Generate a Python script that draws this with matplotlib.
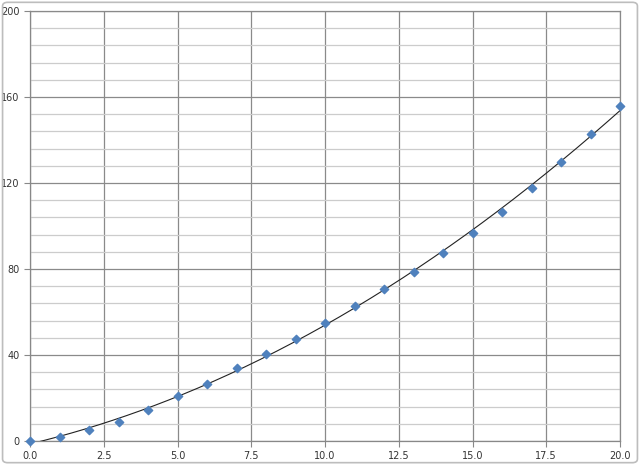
import matplotlib
matplotlib.use('Agg')
import matplotlib.pyplot as plt
import numpy as np
from matplotlib.patches import FancyBboxPatch

# measured values
x_vals = [0, 1, 2, 3, 4, 5, 6, 7, 8, 9, 10, 11, 12, 13, 14, 15, 16, 17, 18, 19, 20]
y_vals = [0, 1.7, 5.0, 8.7, 14.6, 20.8, 26.7, 34.1, 40.6, 47.6, 54.9, 62.7,
          70.6, 78.5, 87.6, 96.6, 106.5, 117.7, 129.6, 142.8, 155.7]
x_ticks = [0, 2.5, 5, 7.5, 10, 12.5, 15, 17.5, 20]
y_ticks = [0, 40, 80, 120, 160, 200]

fig = plt.figure(figsize=(6.4, 4.65), dpi=100)
ax = fig.add_axes([30/640, 24/465, 590/640, 430/465])

# chart frame like excel
frame = FancyBboxPatch((0.004, 0.005), 0.992, 0.99, boxstyle="round,pad=0,rounding_size=0.008",
                       transform=fig.transFigure, fill=False, edgecolor='#bdbdbd', linewidth=1.2)
fig.patches.append(frame)

# polynomial trendline (order 2)
coef = np.polyfit(x_vals, y_vals, 2)
xs = np.linspace(0, 20, 300)
ax.plot(xs, np.polyval(coef, xs), color='#222222', linewidth=0.8, zorder=3)

ax.scatter(x_vals, y_vals, marker='D', s=18, color='#4F81BD', zorder=4, clip_on=False)

ax.set_xlim(0, 20)
ax.set_ylim(0, 200)
ax.set_xticks(x_ticks)
ax.set_xticklabels(['%.1f' % t for t in x_ticks])
ax.set_yticks(y_ticks)
ax.set_yticks(np.arange(0, 201, 8), minor=True)
ax.tick_params(axis='both', which='major', labelsize=7, colors='#333333', length=4, width=0.8)
ax.tick_params(axis='y', which='minor', length=0)
ax.tick_params(axis='x', which='major', color='#888888')
ax.tick_params(axis='y', which='major', color='#888888')

ax.grid(True, which='major', color='#8a8a8a', linewidth=0.9)
ax.grid(True, which='minor', axis='y', color='#cccccc', linewidth=0.9)
ax.set_axisbelow(True)

for side in ['top', 'right']:
    ax.spines[side].set_color('#8a8a8a')
    ax.spines[side].set_linewidth(0.9)
for side in ['left', 'bottom']:
    ax.spines[side].set_color('#888888')
    ax.spines[side].set_linewidth(0.9)

fig.savefig('out.png', dpi=100)
